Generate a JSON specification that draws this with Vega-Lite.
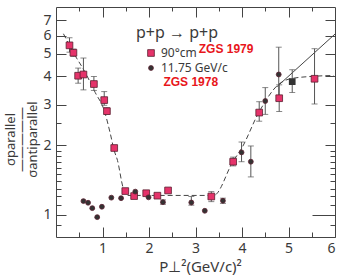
{
  "$schema": "https://vega.github.io/schema/vega-lite/v6.json",
  "width": 279,
  "height": 230,
  "autosize": {"type": "none"},
  "padding": {"left": 56, "top": 7, "right": 19, "bottom": 40},
  "background": "white",
  "config": {
    "view": {"stroke": "#444", "strokeWidth": 1},
    "axis": {"domain": false, "grid": false, "labelFont": "Noto Sans", "labelColor": "#3a3a3a", "labelFontSize": 14, "tickColor": "#444", "tickWidth": 1, "titleFont": "Noto Sans", "titleColor": "#3a3a3a", "titleFontWeight": "normal"}
  },
  "datasets": {
    "pts": [
      {"x": 0.29, "y": 5.45, "lo": 5.09, "hi": 5.88, "s": "90°cm"},
      {"x": 0.375, "y": 5.06, "lo": 4.88, "hi": 5.25, "s": "90°cm"},
      {"x": 0.476, "y": 4.02, "lo": 3.73, "hi": 4.34, "s": "90°cm"},
      {"x": 0.59, "y": 4.07, "lo": 3.49, "hi": 4.8, "s": "90°cm"},
      {"x": 0.815, "y": 3.7, "lo": 3.47, "hi": 3.99, "s": "90°cm"},
      {"x": 1.037, "y": 3.15, "lo": 2.99, "hi": 3.43, "s": "90°cm"},
      {"x": 1.095, "y": 2.82, "lo": 2.74, "hi": 2.92, "s": "90°cm"},
      {"x": 1.252, "y": 1.95, "s": "90°cm"},
      {"x": 1.49, "y": 1.267, "s": "90°cm"},
      {"x": 1.68, "y": 1.205, "s": "90°cm"},
      {"x": 1.94, "y": 1.24, "s": "90°cm"},
      {"x": 2.18, "y": 1.21, "s": "90°cm"},
      {"x": 2.41, "y": 1.275, "s": "90°cm"},
      {"x": 3.34, "y": 1.2, "lo": 1.14, "hi": 1.26, "s": "90°cm"},
      {"x": 3.81, "y": 1.7, "lo": 1.63, "hi": 1.78, "s": "90°cm"},
      {"x": 4.37, "y": 2.78, "lo": 2.55, "hi": 3.1, "s": "90°cm"},
      {"x": 4.8, "y": 3.21, "lo": 2.81, "hi": 3.67, "s": "90°cm"},
      {"x": 5.56, "y": 3.9, "lo": 3.03, "hi": 5.27, "s": "90°cm"},
      {"x": 0.59, "y": 1.146, "s": "11.75 GeV/c"},
      {"x": 0.69, "y": 1.127, "s": "11.75 GeV/c"},
      {"x": 0.78, "y": 1.068, "s": "11.75 GeV/c"},
      {"x": 0.886, "y": 0.976, "s": "11.75 GeV/c"},
      {"x": 0.987, "y": 1.083, "s": "11.75 GeV/c"},
      {"x": 1.19, "y": 1.186, "s": "11.75 GeV/c"},
      {"x": 1.4, "y": 1.18, "s": "11.75 GeV/c"},
      {"x": 1.705, "y": 1.26, "s": "11.75 GeV/c"},
      {"x": 1.99, "y": 1.19, "s": "11.75 GeV/c"},
      {"x": 2.3, "y": 1.134, "lo": 1.11, "hi": 1.16, "s": "11.75 GeV/c"},
      {"x": 2.91, "y": 1.13, "lo": 1.1, "hi": 1.2, "s": "11.75 GeV/c"},
      {"x": 3.2, "y": 1.04, "s": "11.75 GeV/c"},
      {"x": 3.59, "y": 1.15, "lo": 1.12, "hi": 1.18, "s": "11.75 GeV/c"},
      {"x": 3.99, "y": 1.866, "lo": 1.7, "hi": 2.07, "s": "11.75 GeV/c"},
      {"x": 4.19, "y": 1.7, "lo": 1.46, "hi": 1.99, "s": "11.75 GeV/c"},
      {"x": 4.5, "y": 3.12, "lo": 2.73, "hi": 3.57, "s": "11.75 GeV/c"},
      {"x": 4.79, "y": 4.07, "lo": 3.14, "hi": 5.35, "s": "11.75 GeV/c"}
    ],
    "bsq": [
      {"x": 5.08, "y": 3.79, "lo": 3.4, "hi": 4.27}
    ],
    "curve": [
      {"x": 0.16, "y": 6.12},
      {"x": 0.375, "y": 5.06},
      {"x": 0.627, "y": 4.16},
      {"x": 0.843, "y": 3.4},
      {"x": 1.037, "y": 2.84},
      {"x": 1.166, "y": 2.26},
      {"x": 1.252, "y": 1.9},
      {"x": 1.323, "y": 1.72},
      {"x": 1.44, "y": 1.318},
      {"x": 1.53, "y": 1.213},
      {"x": 3.39, "y": 1.213},
      {"x": 3.81, "y": 1.71},
      {"x": 3.99, "y": 1.94},
      {"x": 4.36, "y": 2.78},
      {"x": 4.79, "y": 3.69},
      {"x": 5.04, "y": 3.9},
      {"x": 5.56, "y": 4.0},
      {"x": 5.97, "y": 4.03}
    ],
    "solid": [
      {"x": 4.75, "y": 3.6},
      {"x": 6.0, "y": 6.1}
    ],
    "notes": [
      {"x": 3.07, "y": 5.25, "t": "ZGS 1979"},
      {"x": 2.31, "y": 3.76, "t": "ZGS 1978"}
    ]
  },
  "layer": [
    {
      "data": {"name": "curve"},
      "mark": {"type": "line", "strokeDash": [5, 3], "color": "#444", "strokeWidth": 1, "interpolate": "monotone"},
      "encoding": {
        "x": {"field": "x", "type": "quantitative", "scale": {"domain": [0, 6], "nice": false, "zero": false},
          "axis": {"orient": "bottom", "values": [1, 2, 3, 4, 5, 6], "tickSize": -10, "labelPadding": 14, "title": "P⊥²(GeV/c)²", "titleFontSize": 15, "titlePadding": 4, "titleX": 144}},
        "y": {"field": "y", "type": "quantitative", "scale": {"type": "log", "domain": [0.8, 8], "nice": false},
          "axis": {"orient": "left", "values": [1, 2, 3, 4, 5, 6, 7], "tickSize": -10, "labelPadding": 15, "title": ["σparallel", "—————", "σantiparallel"], "titleFontSize": 13, "titleLineHeight": 11, "titlePadding": 3, "titleY": 132}}
      }
    },
    {
      "data": {"name": "solid"},
      "mark": {"type": "line", "color": "#444", "strokeWidth": 1},
      "encoding": {
        "x": {"field": "x", "type": "quantitative", "axis": {"orient": "top", "values": [1, 2, 3, 4, 5], "tickSize": -10, "labels": false, "title": null}},
        "y": {"field": "y", "type": "quantitative", "axis": {"orient": "right", "values": [2, 3, 4, 5, 6, 7], "tickSize": -10, "labels": false, "title": null}}
      }
    },
    {
      "data": {"name": "pts"},
      "transform": [{"filter": "isValid(datum.lo)"}],
      "mark": {"type": "errorbar", "color": "#555", "ticks": {"size": 6}},
      "encoding": {
        "x": {"field": "x", "type": "quantitative", "axis": {"orient": "bottom", "values": [0.5, 1.5, 2.5, 3.5, 4.5, 5.5], "tickSize": -5, "labels": false, "title": null}},
        "y": {"field": "lo", "type": "quantitative", "axis": {"orient": "left", "values": [0.9, 1.1, 1.2, 1.3, 1.4, 1.5, 1.6, 1.7, 1.8, 1.9, 2.5], "tickSize": -5, "labels": false, "title": null}},
        "y2": {"field": "hi"}
      }
    },
    {
      "data": {"name": "pts"},
      "mark": {"type": "point", "filled": true, "opacity": 1, "stroke": "#5a2030", "strokeWidth": 0.8},
      "encoding": {
        "x": {"field": "x", "type": "quantitative", "axis": {"orient": "top", "values": [0.5, 1.5, 2.5, 3.5, 4.5, 5.5], "tickSize": -4, "labels": false, "title": null}},
        "y": {"field": "y", "type": "quantitative", "axis": {"orient": "right", "values": [0.9, 1.1, 1.2, 1.3, 1.4, 1.5, 1.6, 1.7, 1.8, 1.9, 2.5], "tickSize": -5, "labels": false, "title": null}},
        "color": {"field": "s", "type": "nominal", "scale": {"domain": ["90°cm", "11.75 GeV/c"], "range": ["#e5336a", "#333333"]},
          "legend": {"orient": "none", "legendX": 80, "legendY": 18, "title": "p+p → p+p", "titleFont": "Noto Sans", "titleFontSize": 16, "titleFontWeight": "normal", "titleColor": "#3a3a3a", "titlePadding": 6, "labelFont": "Noto Sans", "labelFontSize": 12, "labelColor": "#3a3a3a", "labelOffset": 4, "symbolOffset": 9, "padding": 0, "rowPadding": 3, "symbolStrokeColor": "#5a2030", "symbolStrokeWidth": 0.8}},
        "shape": {"field": "s", "type": "nominal", "scale": {"domain": ["90°cm", "11.75 GeV/c"], "range": ["square", "circle"]}},
        "size": {"field": "s", "type": "nominal", "scale": {"domain": ["90°cm", "11.75 GeV/c"], "range": [45, 24]}}
      }
    },
    {
      "data": {"name": "bsq"},
      "layer": [
        {
          "mark": {"type": "errorbar", "color": "#555", "ticks": {"size": 6}},
          "encoding": {
            "x": {"field": "x", "type": "quantitative", "axis": null},
            "y": {"field": "lo", "type": "quantitative", "axis": null},
            "y2": {"field": "hi"}
          }
        },
        {
          "mark": {"type": "point", "shape": "square", "filled": true, "opacity": 1, "color": "#333333", "size": 45},
          "encoding": {
            "x": {"field": "x", "type": "quantitative", "axis": null},
            "y": {"field": "y", "type": "quantitative", "axis": {"orient": "left", "values": [1], "tickSize": -23, "labels": false, "title": null}}
          }
        }
      ]
    },
    {
      "data": {"name": "notes"},
      "mark": {"type": "text", "align": "left", "baseline": "middle", "font": "Liberation Sans", "fontWeight": "bold", "fontSize": 12, "color": "#e8161b"},
      "encoding": {
        "x": {"field": "x", "type": "quantitative", "axis": null},
        "y": {"field": "y", "type": "quantitative", "axis": {"orient": "right", "values": [1], "tickSize": -23, "labels": false, "title": null}},
        "text": {"field": "t"}
      }
    }
  ]
}
